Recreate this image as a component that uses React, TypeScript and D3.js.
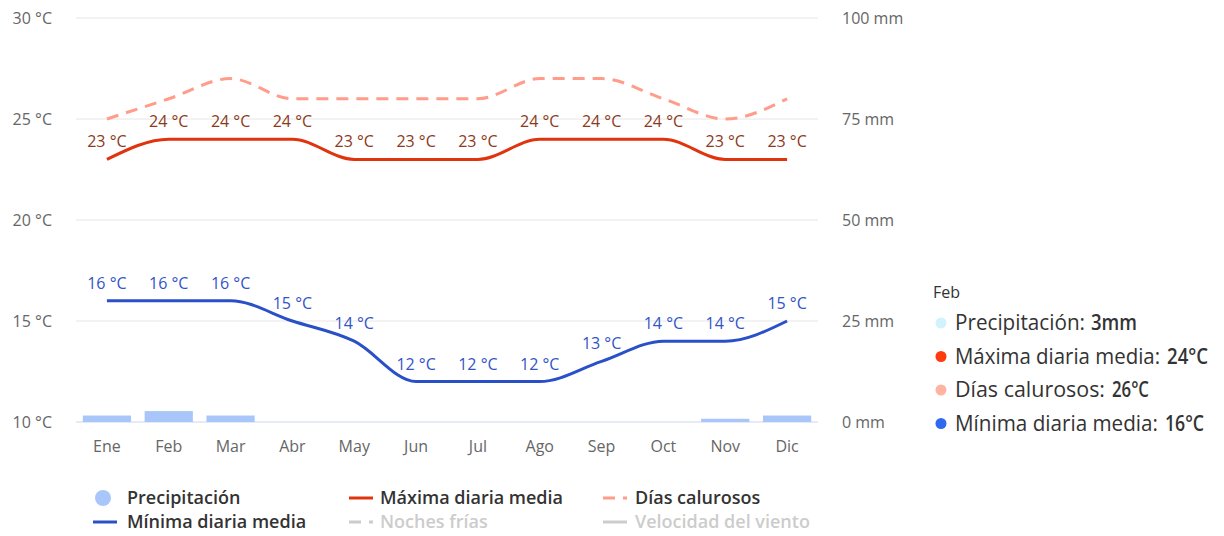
import React from "react";
import * as d3 from "d3";

const months = ["Ene", "Feb", "Mar", "Abr", "May", "Jun", "Jul", "Ago", "Sep", "Oct", "Nov", "Dic"];
const precipitation = [1.6, 2.7, 1.6, 0, 0, 0, 0, 0, 0, 0, 0.8, 1.6];
const maxTemp = [23, 24, 24, 24, 23, 23, 23, 24, 24, 24, 23, 23];
const hotDays = [25, 26, 27, 26, 26, 26, 26, 27, 27, 26, 25, 26];
const minTemp = [16, 16, 16, 15, 14, 12, 12, 12, 13, 14, 14, 15];
const tempTicks = [10, 15, 20, 25, 30];
const precipTicks = [0, 25, 50, 75, 100];
const tooltipIndex = 1;

const FONT = "'Open Sans', 'DejaVu Sans', sans-serif";

export default function App() {
  const width = 1224;
  const height = 536;
  const left = 76;
  const right = 818;
  const top = 18;
  const bottom = 422;

  const x = d3.scaleBand<string>().domain(months).range([left, right]).paddingInner(0.22).paddingOuter(0.11);
  const cx = (m: string) => (x(m) as number) + x.bandwidth() / 2;
  const yT = d3.scaleLinear().domain([10, 30]).range([bottom, top]);
  const yP = d3.scaleLinear().domain([0, 100]).range([bottom, top]);

  const line = (vals: number[]) =>
    d3
      .line<number>()
      .x((_d, i) => cx(months[i]))
      .y((d) => yT(d))
      .curve(d3.curveMonotoneX)(vals) as string;

  // tooltip rows: label span and value span widths
  const tip = [
    { label: "Precipitación:", value: `${Math.round(precipitation[tooltipIndex])}mm`, color: "#d2f3fb", lw: 130, vx: 1091, vw: 46 },
    { label: "Máxima diaria media:", value: `${maxTemp[tooltipIndex]}°C`, color: "#ff3a0e", lw: 205, vx: 1167, vw: 41 },
    { label: "Días calurosos:", value: `${hotDays[tooltipIndex]}°C`, color: "#ffb3a1", lw: 150, vx: 1112, vw: 37 },
    { label: "Mínima diaria media:", value: `${minTemp[tooltipIndex]}°C`, color: "#2e69ef", lw: 203, vx: 1165, vw: 39 },
  ];

  const legendItems = [
    { x: 103, y: 498, tx: 127, kind: "circle", color: "#a9c6fb", text: "Precipitación", active: true },
    { x: 349, y: 498, tx: 380, kind: "line", color: "#e0340f", text: "Máxima diaria media", active: true },
    { x: 603, y: 498, tx: 635, kind: "dash", color: "#ff9c8a", text: "Días calurosos", active: true },
    { x: 93, y: 522, tx: 127, kind: "line", color: "#2a50c8", text: "Mínima diaria media", active: true },
    { x: 349, y: 522, tx: 380, kind: "dash", color: "#cccccc", text: "Noches frías", active: false },
    { x: 603, y: 522, tx: 635, kind: "line", color: "#cccccc", text: "Velocidad del viento", active: false },
  ];

  return (
    <svg width={width} height={height} style={{ position: "absolute", left: 0, top: 0, fontFamily: FONT }}>
      <rect width={width} height={height} fill="#ffffff" />
      {/* grid */}
      {tempTicks.map((t) => (
        <line key={t} x1={left} x2={right} y1={yT(t)} y2={yT(t)} stroke={t === 10 ? "#ccd6eb" : "#e6e6e6"} strokeWidth={1} />
      ))}
      {tempTicks.map((t) => (
        <text key={"l" + t} x={52} y={yT(t)} dy="0.35em" textAnchor="end" fontSize={16} fill="#666666">
          {`${t} °C`}
        </text>
      ))}
      {precipTicks.map((t) => (
        <text key={"r" + t} x={842} y={yP(t)} dy="0.35em" textAnchor="start" fontSize={16} fill="#666666">
          {`${t} mm`}
        </text>
      ))}
      {months.map((m) => (
        <text key={m} x={cx(m)} y={446} dy="0.35em" textAnchor="middle" fontSize={16} fill="#666666">
          {m}
        </text>
      ))}
      {/* precipitation bars */}
      {precipitation.map((p, i) =>
        p > 0 ? (
          <rect key={i} x={x(months[i])} y={yP(p)} width={x.bandwidth()} height={yP(0) - yP(p)} fill="#a9c6fb" />
        ) : null,
      )}
      {/* lines */}
      <path d={line(hotDays)} fill="none" stroke="#ff9c8a" strokeWidth={3} strokeDasharray="12,8" />
      <path d={line(maxTemp)} fill="none" stroke="#e0340f" strokeWidth={3} />
      <path d={line(minTemp)} fill="none" stroke="#2a50c8" strokeWidth={3} />
      {/* data labels */}
      {maxTemp.map((v, i) => (
        <text key={"mx" + i} x={cx(months[i])} y={yT(v) - 12} textAnchor="middle" fontSize={16} fill="#8c3a1c">
          {`${v} °C`}
        </text>
      ))}
      {minTemp.map((v, i) => (
        <text key={"mn" + i} x={cx(months[i])} y={yT(v) - 12} textAnchor="middle" fontSize={16} fill="#3354c8">
          {`${v} °C`}
        </text>
      ))}
      {/* tooltip */}
      <text x={933} y={292} dy="0.35em" fontSize={16} fill="#333333">
        {months[tooltipIndex]}
      </text>
      {tip.map((t, i) => (
        <g key={t.label} transform={`translate(0, ${323 + i * 33.5})`}>
          <circle cx={941} cy={0} r={5.5} fill={t.color} />
          <text x={955} y={0} dy="0.35em" fontSize={21} fill="#333333" textLength={t.lw} lengthAdjust="spacingAndGlyphs">
            {t.label}
          </text>
          <text x={t.vx} y={0} dy="0.35em" fontSize={21} fontWeight={600} fill="#333333" textLength={t.vw} lengthAdjust="spacingAndGlyphs">
            {t.value}
          </text>
        </g>
      ))}
      {/* legend */}
      {legendItems.map((l) => (
        <g key={l.text}>
          {l.kind === "circle" ? (
            <circle cx={l.x} cy={l.y} r={8} fill={l.color} />
          ) : (
            <line
              x1={l.x}
              x2={l.x + 24}
              y1={l.y}
              y2={l.y}
              stroke={l.color}
              strokeWidth={3}
              strokeDasharray={l.kind === "dash" ? "12,8" : undefined}
            />
          )}
          <text x={l.tx} y={l.y} dy="0.35em" fontSize={18} fontWeight={600} fill={l.active ? "#333333" : "#cccccc"}>
            {l.text}
          </text>
        </g>
      ))}
    </svg>
  );
}
